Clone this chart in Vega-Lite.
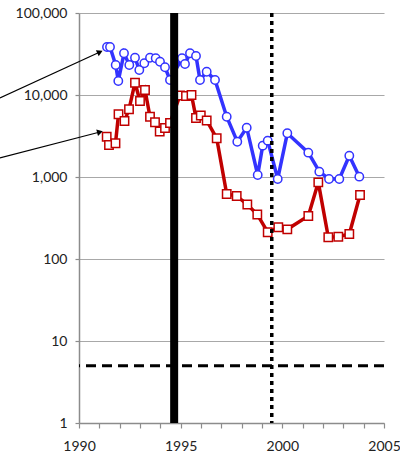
{
  "$schema": "https://vega.github.io/schema/vega-lite/v6.json",
  "width": 305,
  "height": 410,
  "autosize": "none",
  "padding": {"left": 79, "top": 13, "right": 16, "bottom": 35},
  "background": "white",
  "config": {
    "view": {"stroke": null},
    "font": "Lato",
    "axis": {"labelFont": "Lato", "labelFontSize": 14, "labelColor": "#222222"}
  },
  "datasets": {
    "series": [
      {"series": "A", "year": 1991.377, "value": 38490},
      {"series": "A", "year": 1991.525, "value": 38490},
      {"series": "A", "year": 1991.805, "value": 23220},
      {"series": "A", "year": 1991.933, "value": 14820},
      {"series": "A", "year": 1992.213, "value": 32260},
      {"series": "A", "year": 1992.474, "value": 23220},
      {"series": "A", "year": 1992.754, "value": 28500},
      {"series": "A", "year": 1992.966, "value": 20180},
      {"series": "A", "year": 1993.212, "value": 24370},
      {"series": "A", "year": 1993.492, "value": 28500},
      {"series": "A", "year": 1993.772, "value": 28040},
      {"series": "A", "year": 1993.984, "value": 25470},
      {"series": "A", "year": 1994.23, "value": 21770},
      {"series": "A", "year": 1994.475, "value": 15240},
      {"series": "A", "year": 1995.066, "value": 28040},
      {"series": "A", "year": 1995.213, "value": 23890},
      {"series": "A", "year": 1995.459, "value": 32260},
      {"series": "A", "year": 1995.754, "value": 29900},
      {"series": "A", "year": 1995.951, "value": 15240},
      {"series": "A", "year": 1996.28, "value": 19240},
      {"series": "A", "year": 1996.689, "value": 15240},
      {"series": "A", "year": 1997.264, "value": 5436},
      {"series": "A", "year": 1997.785, "value": 2694},
      {"series": "A", "year": 1998.248, "value": 3992},
      {"series": "A", "year": 1998.789, "value": 1058},
      {"series": "A", "year": 1999.035, "value": 2409},
      {"series": "A", "year": 1999.281, "value": 2773},
      {"series": "A", "year": 1999.773, "value": 946},
      {"series": "A", "year": 2000.245, "value": 3411},
      {"series": "A", "year": 2001.278, "value": 1979},
      {"series": "A", "year": 2001.819, "value": 1161},
      {"series": "A", "year": 2002.296, "value": 946},
      {"series": "A", "year": 2002.802, "value": 946},
      {"series": "A", "year": 2003.294, "value": 1819},
      {"series": "A", "year": 2003.786, "value": 1009},
      {"series": "B", "year": 1991.362, "value": 3101},
      {"series": "B", "year": 1991.475, "value": 2456},
      {"series": "B", "year": 1991.795, "value": 2576},
      {"series": "B", "year": 1991.943, "value": 5816},
      {"series": "B", "year": 1992.238, "value": 4818},
      {"series": "B", "year": 1992.459, "value": 6693},
      {"series": "B", "year": 1992.754, "value": 14120},
      {"series": "B", "year": 1993.0, "value": 8450},
      {"series": "B", "year": 1993.246, "value": 11510},
      {"series": "B", "year": 1993.492, "value": 5436},
      {"series": "B", "year": 1993.738, "value": 4645},
      {"series": "B", "year": 1993.969, "value": 3590},
      {"series": "B", "year": 1994.23, "value": 3961},
      {"series": "B", "year": 1994.475, "value": 4560},
      {"series": "B", "year": 1994.967, "value": 9860},
      {"series": "B", "year": 1995.262, "value": 9720},
      {"series": "B", "year": 1995.533, "value": 10000},
      {"series": "B", "year": 1995.754, "value": 5245},
      {"series": "B", "year": 1995.99, "value": 5623},
      {"series": "B", "year": 1996.28, "value": 4886},
      {"series": "B", "year": 1996.772, "value": 2966},
      {"series": "B", "year": 1997.264, "value": 620},
      {"series": "B", "year": 1997.756, "value": 586},
      {"series": "B", "year": 1998.278, "value": 462},
      {"series": "B", "year": 1998.769, "value": 349},
      {"series": "B", "year": 1999.281, "value": 212},
      {"series": "B", "year": 1999.802, "value": 244},
      {"series": "B", "year": 2000.245, "value": 230},
      {"series": "B", "year": 2001.278, "value": 335},
      {"series": "B", "year": 2001.769, "value": 861},
      {"series": "B", "year": 2002.261, "value": 184},
      {"series": "B", "year": 2002.753, "value": 187},
      {"series": "B", "year": 2003.294, "value": 202},
      {"series": "B", "year": 2003.821, "value": 603}
    ],
    "arrows": [
      {"series": "A", "x1": 1986.11, "y1": 9190, "x2": 1991.03, "y2": 33420},
      {"series": "B", "x1": 1986.11, "y1": 1706, "x2": 1991.03, "y2": 3538}
    ],
    "events": [
      {"kind": "main", "year": 1994.68},
      {"kind": "second", "year": 1999.48}
    ],
    "threshold": [{"value": 5}]
  },
  "layer": [
    {
      "data": {"name": "series"},
      "mark": {"type": "line", "strokeWidth": 3.5},
      "encoding": {
        "x": {
          "field": "year", "type": "quantitative",
          "scale": {"domain": [1990, 2005], "nice": false, "zero": false},
          "axis": {
            "title": null,
            "values": [1990, 1991, 1992, 1993, 1994, 1995, 1996, 1997, 1998, 1999, 2000, 2001, 2002, 2003, 2004, 2005],
            "tickCount": 30,
            "labelExpr": "datum.value % 5 === 0 ? format(datum.value, 'd') : ''",
            "labelOverlap": false,
            "grid": false,
            "domainColor": "#8c8c8c", "domainWidth": 1.5,
            "tickColor": "#8c8c8c", "tickSize": 5, "tickWidth": 1.2,
            "labelPadding": 11, "labelFlush": false
          }
        },
        "y": {
          "field": "value", "type": "quantitative",
          "scale": {"type": "log", "domain": [1, 100000], "nice": false},
          "axis": {
            "title": null,
            "values": [1, 10, 100, 1000, 10000, 100000],
            "tickCount": 10,
            "format": ",",
            "labelOverlap": false,
            "grid": true, "gridColor": "#a8a8a8", "gridWidth": 1.2,
            "domainColor": "#8c8c8c", "domainWidth": 1.5,
            "tickColor": "#8c8c8c", "tickSize": 4, "tickWidth": 1.2,
            "labelPadding": 8
          }
        },
        "color": {
          "field": "series", "type": "nominal",
          "scale": {"domain": ["A", "B"], "range": ["#3333ff", "#c00000"]},
          "legend": null
        },
        "order": {"field": "year", "type": "quantitative"}
      }
    },
    {
      "data": {"name": "series"},
      "mark": {"type": "point", "filled": true, "fill": "white", "strokeWidth": 1.5, "size": 70, "opacity": 1},
      "encoding": {
        "x": {"field": "year", "type": "quantitative"},
        "y": {"field": "value", "type": "quantitative"},
        "stroke": {
          "field": "series", "type": "nominal",
          "scale": {"domain": ["A", "B"], "range": ["#3333ff", "#c00000"]},
          "legend": null
        },
        "shape": {
          "field": "series", "type": "nominal",
          "scale": {"domain": ["A", "B"], "range": ["circle", "square"]},
          "legend": null
        }
      }
    },
    {
      "data": {"name": "events"},
      "transform": [{"filter": "datum.kind === 'main'"}],
      "mark": {"type": "rule", "color": "black", "strokeWidth": 8},
      "encoding": {"x": {"field": "year", "type": "quantitative"}}
    },
    {
      "data": {"name": "events"},
      "transform": [{"filter": "datum.kind === 'second'"}],
      "mark": {"type": "rule", "color": "black", "strokeWidth": 3.5, "strokeDash": [4, 4]},
      "encoding": {"x": {"field": "year", "type": "quantitative"}}
    },
    {
      "data": {"name": "threshold"},
      "mark": {"type": "rule", "color": "black", "strokeWidth": 3, "strokeDash": [10, 6]},
      "encoding": {"y": {"field": "value", "type": "quantitative"}}
    },
    {
      "data": {"name": "arrows"},
      "mark": {"type": "rule", "color": "black", "strokeWidth": 1.2, "clip": false},
      "encoding": {
        "x": {"field": "x1", "type": "quantitative"},
        "y": {"field": "y1", "type": "quantitative"},
        "x2": {"field": "x2"},
        "y2": {"field": "y2"}
      }
    },
    {
      "data": {"name": "arrows"},
      "transform": [{"filter": "datum.series === 'A'"}],
      "mark": {"type": "point", "shape": "triangle-up", "filled": true, "color": "black", "size": 45, "angle": 65, "opacity": 1},
      "encoding": {
        "x": {"field": "x2", "type": "quantitative"},
        "y": {"field": "y2", "type": "quantitative"}
      }
    },
    {
      "data": {"name": "arrows"},
      "transform": [{"filter": "datum.series === 'B'"}],
      "mark": {"type": "point", "shape": "triangle-up", "filled": true, "color": "black", "size": 45, "angle": 75, "opacity": 1},
      "encoding": {
        "x": {"field": "x2", "type": "quantitative"},
        "y": {"field": "y2", "type": "quantitative"}
      }
    }
  ]
}
